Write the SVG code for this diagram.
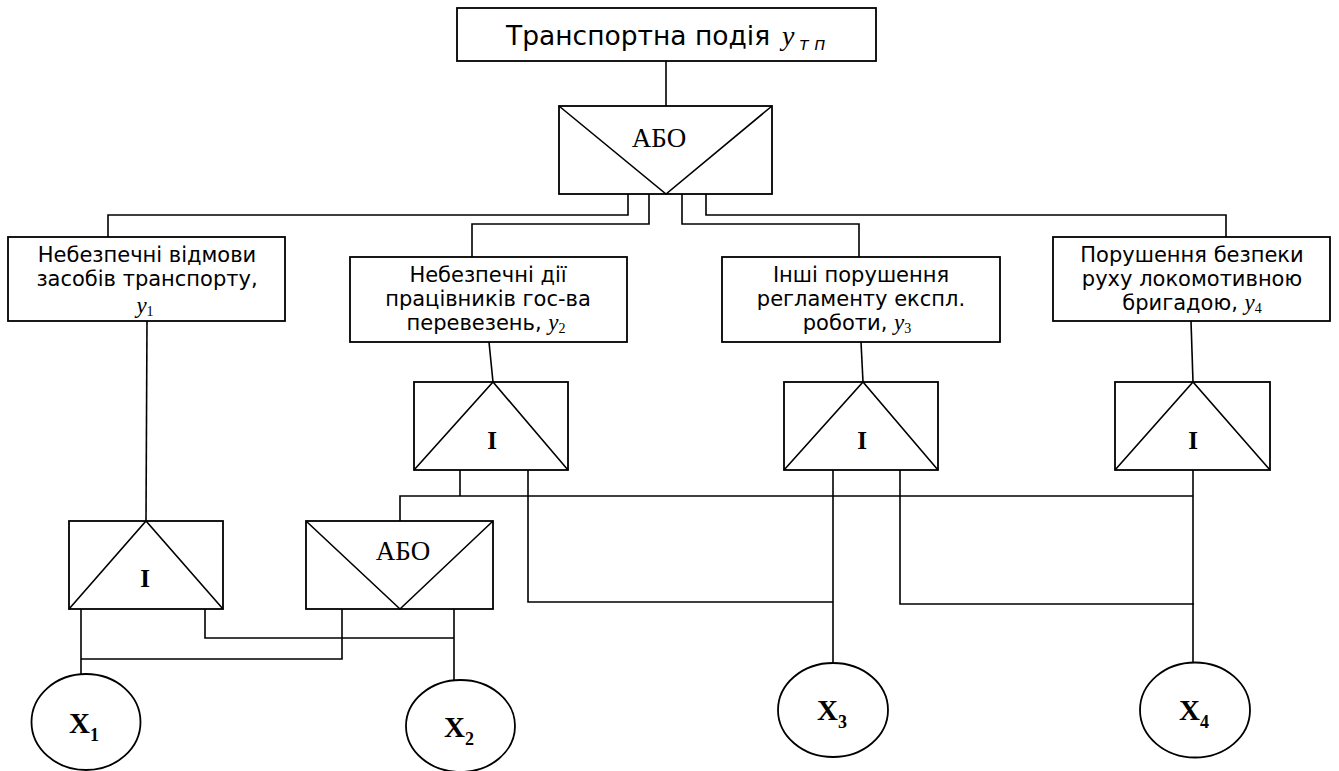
<svg xmlns="http://www.w3.org/2000/svg" width="1339" height="771" viewBox="0 0 1339 771">
<style>
.box{fill:#fff;stroke:#000;stroke-width:1.8}
.ln{fill:none;stroke:#000;stroke-width:1.6}
.sans{font-family:"DejaVu Sans","Verdana",sans-serif;font-size:21px;fill:#000}
.title{font-size:26.5px}
.it{font-family:"Liberation Serif","Times New Roman",serif;font-style:italic;font-size:23px}
.sub{font-family:"Liberation Serif","Times New Roman",serif;font-style:normal;font-size:14px}
.tsub{font-family:"DejaVu Sans","Verdana",sans-serif;font-style:italic;font-size:17px}
.gate{font-family:"Liberation Serif","Times New Roman",serif;font-size:27px;fill:#000}
.and{font-family:"Liberation Serif","Times New Roman",serif;font-size:25px;font-weight:bold;fill:#000}
.xl{font-family:"Liberation Serif","Times New Roman",serif;font-size:29px;font-weight:bold;fill:#000}
.xs{font-size:18px}
</style>
<rect width="1339" height="771" fill="#fff"/>
<g id="connectors">
<path class="ln" d="M666,61 V106"/>
<path class="ln" d="M628,194 V215 H108 V237"/>
<path class="ln" d="M649,194 V224 H472 V257"/>
<path class="ln" d="M682,194 V224 H859 V257"/>
<path class="ln" d="M706,194 V215 H1226 V237"/>
<path class="ln" d="M147,321 L146,521"/>
<path class="ln" d="M489,342 L493,382"/>
<path class="ln" d="M861,342 L863,382"/>
<path class="ln" d="M1191,321 L1193,382"/>
<path class="ln" d="M460,470 V496"/>
<path class="ln" d="M400,521 V496 H1193"/>
<path class="ln" d="M528,470 V602 H833"/>
<path class="ln" d="M833,470 V663"/>
<path class="ln" d="M900,470 V604 H1194"/>
<path class="ln" d="M1193,470 V663"/>
<path class="ln" d="M81,609 V675"/>
<path class="ln" d="M205,609 V638 H454"/>
<path class="ln" d="M342,609 V659 H81"/>
<path class="ln" d="M454,609 V681"/>
</g>
<g id="top-event">
<rect class="box" x="457" y="8" width="419" height="53"/>
<text class="sans title" x="506" y="45">Транспортна подія<tspan class="it" x="782" style="font-size:28px">y</tspan><tspan class="tsub" x="799" y="50">т п</tspan></text>
</g>
<g id="or-gate-1">
<rect class="box" x="559" y="106" width="213" height="88"/>
<path class="ln" d="M559,106 L666,194 L772,106"/>
<text class="gate" x="659" y="147" text-anchor="middle">АБО</text>
</g>
<g id="event-y1">
<rect class="box" x="8" y="237" width="277" height="84"/>
<text class="sans" x="147" y="262" text-anchor="middle">Небезпечні відмови</text>
<text class="sans" x="147" y="286" text-anchor="middle">засобів транспорту,</text>
<text x="145" y="313" text-anchor="middle"><tspan class="it">y</tspan><tspan class="sub" dy="3">1</tspan></text>
</g>
<g id="event-y2">
<rect class="box" x="350" y="257" width="277" height="85"/>
<text class="sans" x="488" y="282" text-anchor="middle">Небезпечні дії</text>
<text class="sans" x="488" y="306" text-anchor="middle">працівників гос-ва</text>
<text class="sans" x="486" y="330" text-anchor="middle">перевезень, <tspan class="it">y</tspan><tspan class="sub" dy="3">2</tspan></text>
</g>
<g id="event-y3">
<rect class="box" x="722" y="257" width="278" height="85"/>
<text class="sans" x="861" y="282" text-anchor="middle">Інші порушення</text>
<text class="sans" x="861" y="306" text-anchor="middle">регламенту експл.</text>
<text class="sans" x="857" y="330" text-anchor="middle">роботи, <tspan class="it">y</tspan><tspan class="sub" dy="3">3</tspan></text>
</g>
<g id="event-y4">
<rect class="box" x="1053" y="237" width="277" height="84"/>
<text class="sans" x="1192" y="262" text-anchor="middle">Порушення безпеки</text>
<text class="sans" x="1192" y="286" text-anchor="middle">руху локомотивною</text>
<text class="sans" x="1192" y="310" text-anchor="middle">бригадою, <tspan class="it">y</tspan><tspan class="sub" dy="3">4</tspan></text>
</g>
<g id="and-gate-y2">
<rect class="box" x="414" y="382" width="154" height="88"/>
<path class="ln" d="M414,470 L493,382 L568,470"/>
<text class="and" x="492" y="449" text-anchor="middle">I</text>
</g>
<g id="and-gate-y3">
<rect class="box" x="784" y="382" width="154" height="88"/>
<path class="ln" d="M784,470 L863,382 L938,470"/>
<text class="and" x="862" y="449" text-anchor="middle">I</text>
</g>
<g id="and-gate-y4">
<rect class="box" x="1115" y="382" width="155" height="88"/>
<path class="ln" d="M1115,470 L1193,382 L1270,470"/>
<text class="and" x="1193" y="449" text-anchor="middle">I</text>
</g>
<g id="and-gate-y1">
<rect class="box" x="69" y="521" width="154" height="88"/>
<path class="ln" d="M69,609 L146,521 L223,609"/>
<text class="and" x="145" y="587" text-anchor="middle">I</text>
</g>
<g id="or-gate-2">
<rect class="box" x="306" y="521" width="187" height="88"/>
<path class="ln" d="M306,521 L400,609 L493,521"/>
<text class="gate" x="403" y="560" text-anchor="middle">АБО</text>
</g>
<g id="x1">
<ellipse class="box" cx="86" cy="722" rx="54.5" ry="48"/>
<text class="xl" x="69" y="733">X<tspan class="xs" y="741">1</tspan></text>
</g>
<g id="x2">
<ellipse class="box" cx="460.5" cy="726" rx="54.5" ry="46"/>
<text class="xl" x="444" y="737">X<tspan class="xs" y="745">2</tspan></text>
</g>
<g id="x3">
<ellipse class="box" cx="833" cy="710" rx="55" ry="47"/>
<text class="xl" x="817" y="720">X<tspan class="xs" y="728">3</tspan></text>
</g>
<g id="x4">
<ellipse class="box" cx="1195" cy="710" rx="55" ry="47.5"/>
<text class="xl" x="1179" y="720">X<tspan class="xs" y="728">4</tspan></text>
</g>
</svg>
